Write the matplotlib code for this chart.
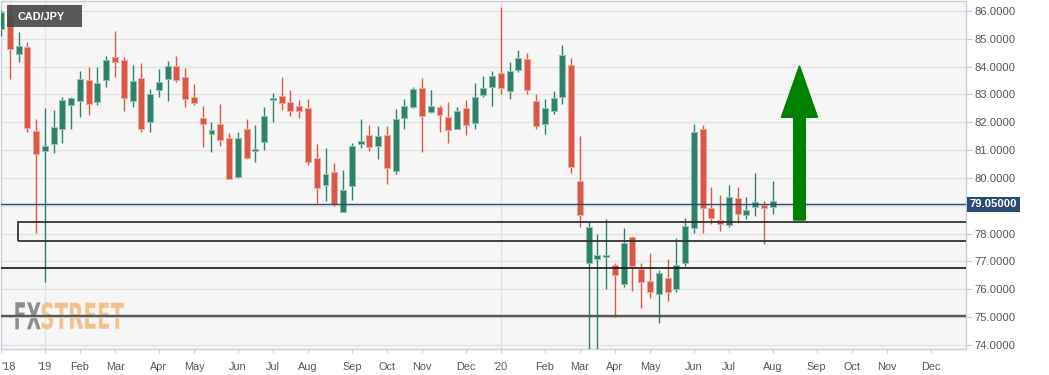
import matplotlib
matplotlib.use('Agg')
import matplotlib.pyplot as plt
import numpy as np
import pandas as pd
from matplotlib.patches import Rectangle, FancyArrow, PathPatch
from matplotlib.textpath import TextPath
from matplotlib.font_manager import FontProperties
from matplotlib.transforms import Affine2D, blended_transform_factory

# ---------------- data (weekly CAD/JPY candles) ----------------
start_week = '2018-11-25'
opens = [85.35, 85.86, 84.44, 84.71, 81.69, 80.98, 81.21, 81.75, 82.63, 82.77,
         83.53, 82.73, 83.52, 84.35, 84.24, 82.78, 83.60, 82.01, 83.15, 83.54,
         84.02, 83.64, 82.91, 82.16, 81.58, 81.94, 81.44, 80.05, 81.75, 80.98,
         81.29, 82.80, 82.96, 82.73, 82.60, 82.50, 80.72, 79.75, 80.23, 78.77,
         79.71, 81.22, 81.54, 81.15, 81.54, 80.25, 82.17, 82.55, 83.23, 82.36,
         82.56, 82.20, 81.77, 82.51, 81.98, 82.98, 83.26, 83.76, 83.13, 83.88,
         84.28, 82.77, 81.94, 82.42, 82.90, 84.05, 79.88, 76.93, 77.10, 77.15,
         76.86, 76.19, 77.88, 76.74, 76.30, 75.84, 76.41, 76.01, 76.95, 78.19,
         81.76, 78.91, 78.49, 78.31, 79.27, 78.66, 78.95, 79.02, 78.97]
highs = [86.05, 86.25, 85.23, 84.87, 82.12, 82.50, 82.44, 82.90, 82.92, 83.84,
         84.00, 83.98, 84.38, 85.28, 84.36, 84.05, 84.12, 83.21, 83.90, 84.19,
         84.37, 83.94, 83.37, 82.60, 82.00, 82.65, 81.60, 81.64, 82.12, 81.89,
         82.54, 83.04, 83.62, 83.15, 82.80, 82.84, 81.21, 81.08, 80.53, 80.29,
         81.25, 82.12, 81.89, 81.86, 81.86, 82.48, 82.84, 83.26, 83.58, 83.15,
         82.61, 82.72, 82.54, 82.80, 83.40, 83.65, 83.84, 86.13, 84.16, 84.60,
         84.48, 83.03, 82.83, 83.13, 84.78, 84.30, 81.51, 78.41, 77.97, 78.51,
         76.93, 78.19, 77.90, 76.93, 77.29, 76.69, 77.09, 77.83, 78.55, 81.93,
         81.90, 79.66, 79.39, 79.74, 79.67, 79.30, 80.17, 79.18, 79.89]
lows = [85.10, 83.54, 84.16, 81.66, 78.01, 76.28, 80.89, 81.27, 81.75, 82.20,
        82.25, 82.61, 83.26, 83.62, 82.42, 82.56, 81.64, 81.64, 82.92, 82.75,
        83.46, 82.54, 82.61, 81.13, 80.92, 81.16, 79.95, 79.99, 80.69, 80.56,
        80.99, 82.02, 82.43, 82.22, 82.14, 80.46, 79.09, 79.16, 79.01, 78.76,
        79.21, 81.07, 80.98, 80.67, 79.77, 80.13, 81.75, 82.53, 80.92, 82.32,
        81.64, 81.27, 81.75, 81.53, 81.75, 82.92, 82.60, 83.01, 82.83, 83.82,
        83.01, 81.75, 81.57, 82.29, 82.65, 80.17, 78.25, 73.60, 73.80, 76.00,
        74.99, 76.07, 75.95, 75.32, 75.68, 74.80, 75.59, 75.89, 76.85, 78.01,
        78.03, 78.33, 78.11, 78.25, 78.39, 78.53, 78.65, 77.62, 78.69]
closes = [85.95, 84.62, 84.75, 81.78, 80.87, 81.16, 81.83, 82.81, 82.87, 83.57,
          82.65, 83.43, 84.24, 84.18, 82.86, 83.50, 81.77, 83.01, 83.44, 84.01,
          83.52, 82.83, 82.69, 81.93, 81.72, 81.37, 79.96, 81.44, 80.73, 81.05,
          82.22, 82.85, 82.68, 82.41, 82.41, 80.59, 79.63, 80.14, 79.07, 79.56,
          81.15, 81.32, 81.13, 81.51, 80.35, 82.11, 82.57, 83.21, 82.24, 82.60,
          82.28, 81.71, 82.41, 81.89, 82.90, 83.22, 83.68, 83.22, 83.84, 84.30,
          83.16, 81.88, 82.53, 82.86, 84.43, 80.38, 78.66, 78.23, 77.23, 77.19,
          76.50, 77.67, 76.83, 76.27, 75.89, 76.57, 75.89, 76.87, 78.27, 81.64,
          78.93, 78.55, 78.33, 79.33, 78.69, 78.85, 79.13, 78.93, 79.17]

tick_dates = ['2018-11-25', '2018-12-30', '2019-01-27', '2019-02-24', '2019-03-31',
              '2019-04-28', '2019-06-02', '2019-06-30', '2019-07-28', '2019-09-01',
              '2019-09-29', '2019-10-27', '2019-12-01', '2019-12-29', '2020-02-02',
              '2020-03-01', '2020-03-29', '2020-04-26', '2020-05-31', '2020-06-28',
              '2020-08-02', '2020-09-06', '2020-10-04', '2020-11-01', '2020-12-06']
tick_labels = ["'18", "'19", 'Feb', 'Mar', 'Apr', 'May', 'Jun', 'Jul', 'Aug', 'Sep',
               'Oct', 'Nov', 'Dec', "'20", 'Feb', 'Mar', 'Apr', 'May', 'Jun', 'Jul',
               'Aug', 'Sep', 'Oct', 'Nov', 'Dec']
year_labels = ["'19", "'20"]
price_ticks = [74, 75, 76, 77, 78, 79, 80, 81, 82, 83, 84, 85, 86]

last_price = 79.05
zone_high, zone_low = 78.41, 77.74
zone_start_date = '2018-12-09'
support_a = 76.77
support_b = 75.05
arrow_date = '2020-08-30'
arrow_from, arrow_to, arrow_head_base = 78.49, 84.03, 82.18
pair = 'CAD/JPY'

# ---------------- figure ----------------
plt.rcParams['font.family'] = ['Liberation Sans', 'DejaVu Sans']
W, H = 1049, 375
fig = plt.figure(figsize=(W / 100, H / 100), dpi=100, facecolor='white')
ax = fig.add_axes([1 / W, (H - 349) / H, 965 / W, 348 / H])
ax.set_facecolor('#f6f6f6')

t0 = pd.Timestamp(start_week)
def wk(d):
    return (pd.Timestamp(d) - t0).days / 7.0

dates = pd.date_range(t0, periods=len(closes), freq='7D')
x = np.array([(d - t0).days / 7.0 for d in dates])
o = np.array(opens); h = np.array(highs); l = np.array(lows); c = np.array(closes)
up = c >= o

green, red = '#2f8169', '#d95848'
green_edge, red_edge = '#8cc2b1', '#f0a79d'
fill = np.where(up, green, red)
edge = np.where(up, green_edge, red_edge)

ax.vlines(x, l, h, colors=fill, lw=1.0, zorder=3)
body_h = np.maximum(np.abs(c - o), 0.07)
ax.bar(x, body_h, bottom=np.minimum(o, c), width=0.68, color=fill,
       edgecolor=edge, linewidth=0.7, zorder=4)

# grid
ax.set_yticks(price_ticks)
ax.grid(axis='y', color='#e2e2e2', lw=1.0, zorder=0)
ax.grid(axis='x', visible=False)
tpos = [wk(d) for d in tick_dates]
for p, lab in zip(tpos, tick_labels):
    if lab in year_labels:
        ax.axvline(p, color='#e2e2e2', lw=1.0, zorder=0.5)

# levels
ax.axhline(last_price, color='#2a4a78', lw=1.0, zorder=5)
zs = wk(zone_start_date) - 0.03
ax.add_patch(Rectangle((zs, zone_low), 200, zone_high - zone_low, fill=False,
                       ec='#333333', lw=1.3, zorder=5))
ax.axhline(support_a, color='#151515', lw=1.2, zorder=5)
ax.axhline(support_b, color='#575757', lw=1.7, zorder=5)

# arrow
ax.add_patch(FancyArrow(wk(arrow_date) - 0.96, arrow_from, 0, arrow_to - arrow_from,
                        width=1.33, head_width=4.13,
                        head_length=arrow_to - arrow_head_base,
                        length_includes_head=True, color='#008000', zorder=6))

ax.set_xlim(0.12, 110.03)
ax.set_ylim(73.855, 86.359)

# axes styling
for s in ax.spines.values():
    s.set_color('#c9cde0'); s.set_linewidth(1.0)
ax.yaxis.tick_right()
# the tick label nearest the last-price box is hidden by it in the reference
ax.set_yticklabels(['' if abs(v - last_price) < 0.5 else f'{v:.4f}' for v in price_ticks])
ax.tick_params(axis='y', length=4, color='#c5c9d6', labelsize=8.1,
               labelcolor='#555555', pad=2)
ax.set_xticks(tpos)
ax.set_xticklabels(tick_labels)
ax.tick_params(axis='x', length=3, color='#c5c9d6', labelsize=7.8,
               labelcolor='#555555', pad=6)
ax.get_xticklabels()[0].set_ha('left')

# last price label
bt = blended_transform_factory(ax.transAxes, ax.transData)
ax.annotate(f'{last_price:.5f}', xy=(1.0, last_price), xycoords=bt,
            xytext=(4, 0), textcoords='offset pixels', ha='left', va='center',
            color='white', fontsize=8.1, fontweight='bold', annotation_clip=False,
            bbox=dict(boxstyle='square,pad=0.25', fc='#2b4a73', ec='none'),
            zorder=10)

# pair label box
fig.add_artist(Rectangle((7 / W, 1 - 27 / H), 75 / W, 22 / H, transform=fig.transFigure,
                         fc='#4a4a4a', ec='none', alpha=0.92, zorder=10))
fig.text(17 / W, 1 - 16.5 / H, pair, color='white', fontsize=7.8,
         fontweight='bold', va='center', ha='left', zorder=11)

# watermark
def word(text, x0, x1, ytop, ybot, color):
    fp = FontProperties(family='DejaVu Sans', weight='bold')
    tp = TextPath((0, 0), text, size=10, prop=fp)
    e = tp.get_extents()
    tr = (Affine2D().translate(-e.x0, -e.y0)
          .scale((x1 - x0) / e.width / W, (ybot - ytop) / e.height / H)
          .translate(x0 / W, 1 - ybot / H) + fig.transFigure)
    pp = PathPatch(tp, transform=tr, fc=color, ec='none', zorder=1.5)
    ax.add_artist(pp)

word('FX', 15.3, 40.7, 302.3, 329.3, '#8d8d8d')
word('STREET', 41.7, 124.0, 302.3, 329.3, '#f3c28c')

fig.savefig('out.png', dpi=100, facecolor='white')
